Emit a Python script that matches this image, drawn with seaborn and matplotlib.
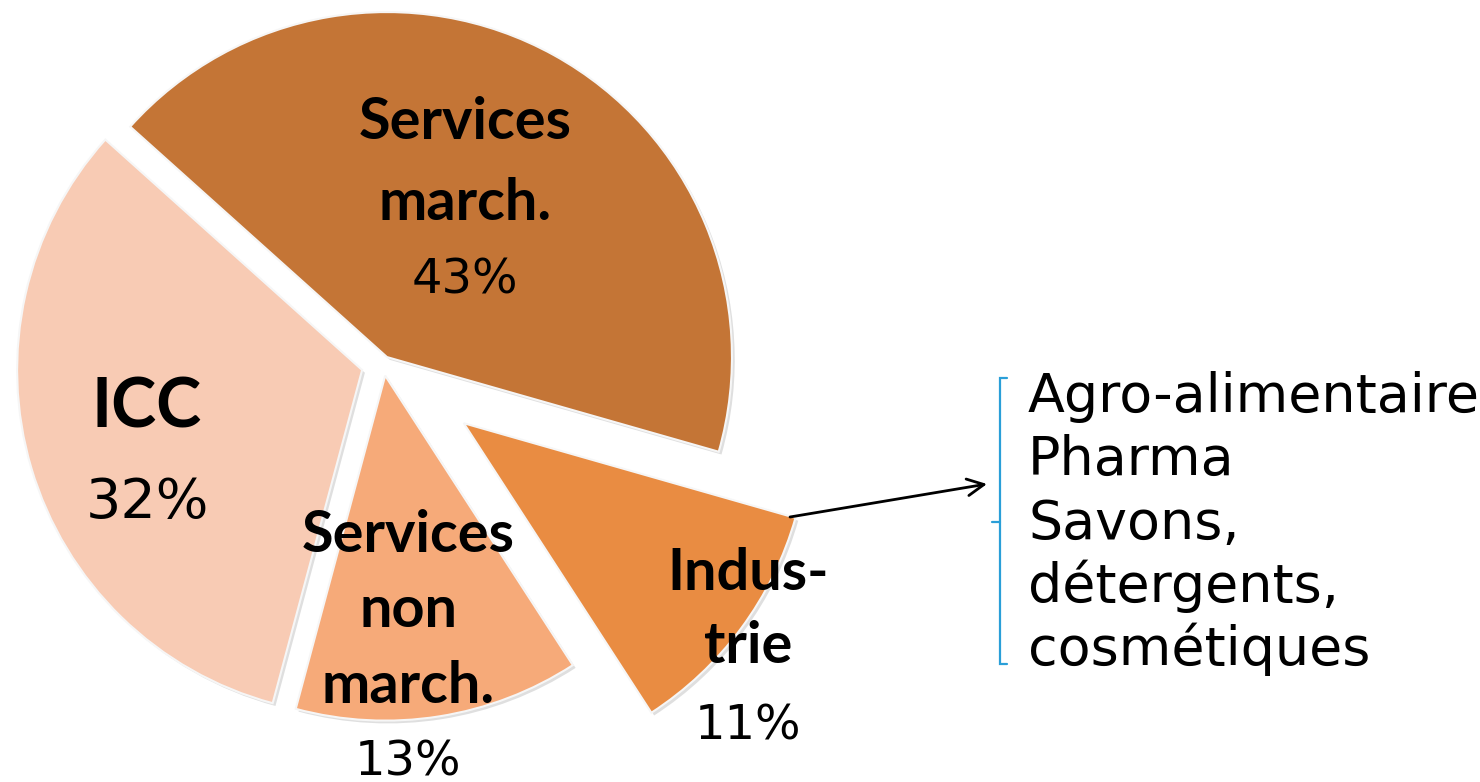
import matplotlib
matplotlib.use("Agg")
import matplotlib.pyplot as plt
import matplotlib.patheffects as pe
import seaborn as sns

# ---- data ----
categories = ["Services\nmarch.", "Indus-\ntrie", "Services\nnon\nmarch.", "ICC"]
shares = [42.7, 11.4, 13.3, 32.4]
colors = ["#C47536", "#E98C42", "#F6AA79", "#F8CBB4"]
industry_items = ["Agro-alimentaire", "Pharma", "Savons,", "détergents,", "cosmétiques"]

sns.set_theme(style="white")
plt.rcParams["font.family"] = ["DejaVu Sans"]

W, H = 1480, 782
fig = plt.figure(figsize=(W / 100, H / 100), dpi=100)
ax = fig.add_axes([0, 0, 1, 1])

CX, CY, R = 383.3, 363.7, 345.0  # pie centre / radius in pixels


def px(x, y):
    return ((x - CX) / R, (CY - y) / R)


wedges, _ = ax.pie(
    shares,
    colors=colors,
    startangle=138.1,
    counterclock=False,
    explode=[0.022, 0.29, 0.035, 0.064],
    radius=1.0,
    wedgeprops=dict(edgecolor="#f6f6f6", linewidth=1.5),
)
for w in wedges:
    w.set_path_effects([
        pe.SimplePatchShadow(offset=(2, -2), shadow_rgbFace="0.5", alpha=0.25),
        pe.Normal(),
    ])

ax.set_xlim(-CX / R, (W - CX) / R)
ax.set_ylim(-(H - CY) / R, CY / R)
ax.set_aspect("equal", adjustable="box")
ax.axis("off")

bold = dict(family=["Lato", "DejaVu Sans"], fontweight="bold", color="black",
            ha="center", va="baseline")
reg = dict(family=["DejaVu Sans"], color="black", ha="center", va="baseline")

# label layout (pixel positions): (centre x, baselines of name lines, baseline of pct, sizes)
layout = [
    (465, [139, 220], 293, 41.5, 34.5),
    (748, [590, 663], 740, 41.5, 34.5),
    (408, [552, 627, 703], 775, 41.5, 34.5),
    (147, [428], 518, 49, 40),
]
for name, share, (xc, bls, pbl, bsz, psz) in zip(categories, shares, layout):
    for line, bl in zip(name.split("\n"), bls):
        ax.text(*px(xc, bl), line, fontsize=bsz, **bold)
    ax.text(*px(xc, pbl), f"{round(share)}%", fontsize=psz, **reg)

# arrow from Industrie slice to the list
ax.annotate("", xy=px(987, 484), xytext=px(790, 517),
            arrowprops=dict(arrowstyle="->", color="black", lw=2, mutation_scale=30,
                            shrinkA=0, shrinkB=0))

# bracket
bc = "#2A9FD8"
ax.plot(*zip(px(1007, 378), px(1000, 378), px(1000, 664), px(1007, 664)), color=bc, lw=1.6,
        solid_joinstyle="miter")
ax.plot(*zip(px(992, 522), px(1000, 522)), color=bc, lw=1.6)

for i, item in enumerate(industry_items):
    ax.text(*px(1028, 412 + i * 63.3), item, fontsize=38.8, family=["DejaVu Sans"],
            color="black", ha="left", va="baseline")

fig.savefig("out.png", dpi=100)
